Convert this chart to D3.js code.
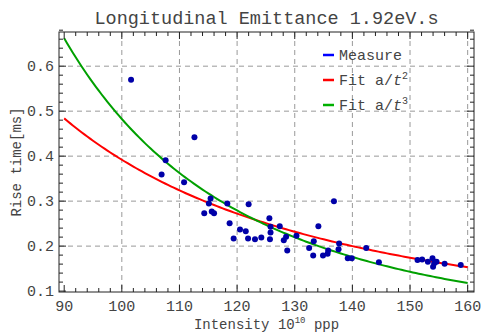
<!DOCTYPE html>
<html>
<head>
<meta charset="utf-8">
<script src="https://cdn.jsdelivr.net/npm/d3@7"></script>
<style>
  html, body { margin: 0; padding: 0; background: #fff; }
  svg { display: block; font-family: "Courier New", Courier, "Nimbus Mono PS", FreeMono, "Liberation Mono", monospace; }
</style>
</head>
<body>
<svg id="chart" width="484" height="332"></svg>
<script>
// Measured rise time vs beam intensity
const intensity = [101.6, 112.6, 107.6, 106.9, 110.8, 115.4, 115.1, 118.3, 114.3, 115.6,
  116.0, 118.7, 122.0, 119.4, 120.5, 121.5, 121.9, 123.1, 124.2, 125.6,
  125.8, 125.8, 125.7, 127.4, 128.1, 128.5, 128.7, 130.3, 132.5, 133.3,
  133.2, 134.1, 134.9, 135.7, 135.8, 136.8, 137.6, 137.7, 139.2, 139.9,
  142.4, 144.6, 151.3, 152.1, 153.1, 153.9, 154.2, 154.0, 154.6, 156.0, 158.8];
const riseTime = [0.570, 0.442, 0.391, 0.359, 0.342, 0.306, 0.295, 0.295, 0.273, 0.277,
  0.273, 0.251, 0.293, 0.217, 0.237, 0.233, 0.217, 0.215, 0.219, 0.262,
  0.243, 0.230, 0.215, 0.244, 0.213, 0.221, 0.190, 0.223, 0.196, 0.211,
  0.179, 0.244, 0.179, 0.183, 0.190, 0.300, 0.193, 0.206, 0.173, 0.173,
  0.196, 0.164, 0.169, 0.170, 0.165, 0.173, 0.162, 0.154, 0.165, 0.161, 0.158];

// Fit coefficients: y = a2 / t^2 and y = a3 / t^3
const fitA2 = 3920;
const fitA3 = 482600;
const fitRange = [90, 160];

const xTicks = [90, 100, 110, 120, 130, 140, 150, 160];
const yTicks = [0.1, 0.2, 0.3, 0.4, 0.5, 0.6];

const W = 484, H = 332;
const m = { left: 59, right: 10, top: 32, bottom: 40 };
const svg = d3.select("#chart");

const x = d3.scaleLinear().domain([89.1, 161.1]).range([m.left, W - m.right]);
const y = d3.scaleLinear().domain([0.098, 0.676]).range([H - m.bottom, m.top]);

const plot = svg.append("g");

// dashed grid
plot.append("g").selectAll("line").data(xTicks.slice(1)).join("line")
  .attr("x1", d => x(d)).attr("x2", d => x(d))
  .attr("y1", m.top).attr("y2", H - m.bottom)
  .attr("stroke", "#999").attr("stroke-dasharray", "5,4");
plot.append("g").selectAll("line").data(yTicks.slice(1)).join("line")
  .attr("x1", m.left).attr("x2", W - m.right)
  .attr("y1", d => y(d)).attr("y2", d => y(d))
  .attr("stroke", "#999").attr("stroke-dasharray", "5,4");

// fit curves
const sampleT = d3.range(fitRange[0], fitRange[1] + 0.001, 0.5);
const line = d3.line().x(d => x(d[0])).y(d => y(d[1]));
plot.append("path")
  .datum(sampleT.map(t => [t, fitA2 / (t * t)]))
  .attr("d", line).attr("fill", "none").attr("stroke", "#ff0000").attr("stroke-width", 2);
plot.append("path")
  .datum(sampleT.map(t => [t, fitA3 / (t * t * t)]))
  .attr("d", line).attr("fill", "none").attr("stroke", "#00a000").attr("stroke-width", 2);

// measurements
plot.append("g").selectAll("circle").data(intensity.map((t, i) => [t, riseTime[i]])).join("circle")
  .attr("cx", d => x(d[0])).attr("cy", d => y(d[1])).attr("r", 3)
  .attr("fill", "#0000a8");

// frame with inward ticks on all sides
const frame = svg.append("g").attr("stroke", "#222").attr("stroke-width", 1);
frame.append("rect")
  .attr("x", m.left).attr("y", m.top)
  .attr("width", W - m.left - m.right).attr("height", H - m.top - m.bottom)
  .attr("fill", "none");

const xMinor = d3.range(90, 161, 2).filter(v => !xTicks.includes(v));
const yMinor = d3.range(0.1, 0.68, 0.02).map(v => +v.toFixed(2)).filter(v => !yTicks.includes(v));
function xTickMarks(vals, len) {
  vals.forEach(v => {
    frame.append("line").attr("x1", x(v)).attr("x2", x(v))
      .attr("y1", H - m.bottom).attr("y2", H - m.bottom - len);
    frame.append("line").attr("x1", x(v)).attr("x2", x(v))
      .attr("y1", m.top).attr("y2", m.top + len);
  });
}
function yTickMarks(vals, len) {
  vals.forEach(v => {
    frame.append("line").attr("y1", y(v)).attr("y2", y(v))
      .attr("x1", m.left).attr("x2", m.left + len);
    frame.append("line").attr("y1", y(v)).attr("y2", y(v))
      .attr("x1", W - m.right).attr("x2", W - m.right - len);
  });
}
xTickMarks(xTicks, 7); xTickMarks(xMinor, 4);
yTickMarks(yTicks, 7); yTickMarks(yMinor, 4);

// tick labels
svg.append("g").selectAll("text").data(xTicks).join("text")
  .attr("x", d => x(d)).attr("y", H - m.bottom + 19)
  .attr("text-anchor", "middle").attr("font-size", 15).attr("fill", "#444")
  .text(d => d);
svg.append("g").selectAll("text").data(yTicks).join("text")
  .attr("x", m.left - 5).attr("y", d => y(d) + 5)
  .attr("text-anchor", "end").attr("font-size", 15).attr("fill", "#444")
  .text(d => d3.format(".1f")(d));

// axis titles
const xt = svg.append("text").attr("x", (m.left + W - m.right) / 2).attr("y", H - 3)
  .attr("text-anchor", "middle").attr("font-size", 14).attr("fill", "#444");
xt.append("tspan").text("Intensity 10");
xt.append("tspan").attr("dy", -6).attr("font-size", 9).text("10");
xt.append("tspan").attr("dy", 6).text(" ppp");

svg.append("text")
  .attr("transform", `translate(21,${(m.top + H - m.bottom) / 2}) rotate(-90)`)
  .attr("text-anchor", "middle").attr("font-size", 14).attr("fill", "#444")
  .text("Rise time[ms]");

// title
svg.append("text").attr("x", (m.left + W - m.right) / 2).attr("y", 24)
  .attr("text-anchor", "middle").attr("font-size", 18.5).attr("fill", "#444")
  .text("Longitudinal Emittance 1.92eV.s");

// legend
const legend = [
  { label: "Measure", color: "#0000ff", exp: null },
  { label: "Fit a/", color: "#ff0000", exp: "2" },
  { label: "Fit a/", color: "#00b000", exp: "3" }
];
const lg = svg.append("g").attr("transform", "translate(323,55)");
legend.forEach((d, i) => {
  const row = lg.append("g").attr("transform", `translate(0,${i * 25})`);
  row.append("line").attr("x1", 0).attr("x2", 11).attr("y1", 0).attr("y2", 0)
    .attr("stroke", d.color).attr("stroke-width", 2.5);
  const t = row.append("text").attr("x", 16).attr("y", 5).attr("font-size", 15).attr("fill", "#444");
  t.append("tspan").text(d.label);
  if (d.exp) {
    t.append("tspan").attr("font-style", "italic").text("t");
    t.append("tspan").attr("dy", -6).attr("font-size", 10).text(d.exp);
  }
});
</script>
</body>
</html>
